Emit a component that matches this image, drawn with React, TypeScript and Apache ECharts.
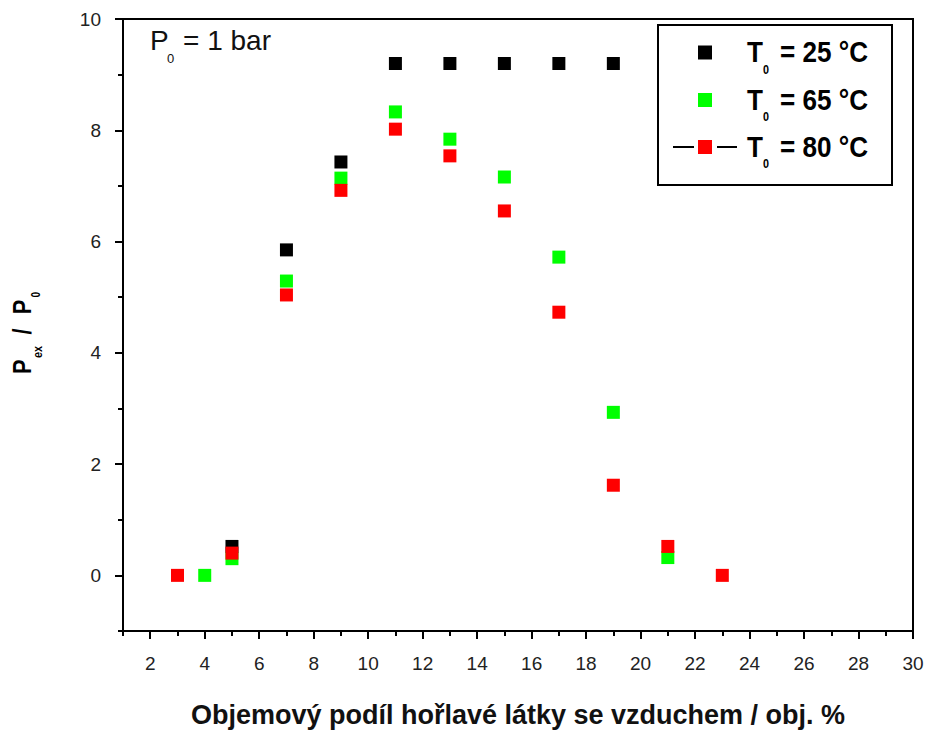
import React, { useEffect, useRef } from "react";
import * as echarts from "echarts";

// ---- data ----
const xTicksMajor = [2, 4, 6, 8, 10, 12, 14, 16, 18, 20, 22, 24, 26, 28, 30];
const xTicksMinor = [1, 3, 5, 7, 9, 11, 13, 15, 17, 19, 21, 23, 25, 27, 29];
const yTicksMajor = [0, 2, 4, 6, 8, 10];
const yTicksMinor = [-1, 1, 3, 5, 7, 9];

const x25 = [5, 7, 9, 11, 13, 15, 17, 19];
const p25 = [0.52, 5.85, 7.43, 9.2, 9.2, 9.2, 9.2, 9.2];
const x65 = [4, 5, 7, 9, 11, 13, 15, 17, 19, 21];
const p65 = [0, 0.3, 5.29, 7.14, 8.33, 7.84, 7.16, 5.72, 2.93, 0.32];
const x80 = [3, 5, 7, 9, 11, 13, 15, 17, 19, 21, 23];
const p80 = [0, 0.4, 5.04, 6.92, 8.02, 7.54, 6.55, 4.73, 1.62, 0.52, 0];

const legendLabels = ["= 25 °C", "= 65 °C", "= 80 °C"];
const colors = ["#000000", "#00ff00", "#ff0000"];

const ARIAL = "'Liberation Sans', Arial, sans-serif";
const NS = 0.84; // horizontal squeeze to imitate a narrow face
const NSL = 0.9;

const zip = (xs: number[], ys: number[]) => xs.map((x, i) => [x, ys[i]]);

export default function App() {
  const ref = useRef<HTMLDivElement>(null);
  useEffect(() => {
    if (!ref.current) return;
    const chart = echarts.init(ref.current, null, { renderer: "svg" });

    const axisCommon = {
      type: "value" as const,
      splitLine: { show: false },
    };

    const legendYs = [52.5, 100, 147];
    const legendGraphics: any[] = [
      {
        type: "rect",
        shape: { x: 658, y: 25, width: 234, height: 160 },
        style: { fill: "#fff", stroke: "#000", lineWidth: 2 },
        z: 10,
      },
    ];
    legendYs.forEach((cy, i) => {
      if (i === 2) {
        legendGraphics.push(
          { type: "line", shape: { x1: 673, y1: cy, x2: 694, y2: cy }, style: { stroke: "#000", lineWidth: 2 }, z: 11 },
          { type: "line", shape: { x1: 717, y1: cy, x2: 737, y2: cy }, style: { stroke: "#000", lineWidth: 2 }, z: 11 }
        );
      }
      legendGraphics.push(
        { type: "rect", shape: { x: 698, y: cy - 7, width: 14, height: 14 }, style: { fill: colors[i] }, z: 12 },
        { type: "text", x: 747, y: cy, scaleX: NSL, style: { text: "T", font: `bold 29px ${ARIAL}`, fill: "#000", verticalAlign: "middle", align: "left" }, z: 12 },
        { type: "text", x: 763, y: cy + 17, scaleX: NSL, style: { text: "0", font: `bold 12px ${ARIAL}`, fill: "#000", verticalAlign: "middle", align: "left" }, z: 12 },
        { type: "text", x: 780, y: cy, scaleX: NSL, style: { text: legendLabels[i], font: `bold 29px ${ARIAL}`, fill: "#000", verticalAlign: "middle", align: "left" }, z: 12 }
      );
    });

    const option: any = {
      animation: false,
      backgroundColor: "#fff",
      grid: {
        left: 123,
        right: 14,
        top: 19,
        bottom: 102,
        show: true,
        borderColor: "#000",
        borderWidth: 2,
        backgroundColor: "transparent",
      },
      xAxis: [
        {
          ...axisCommon,
          min: 1,
          max: 30,
          position: "bottom",
          axisLine: { show: true, onZero: false, lineStyle: { color: "#000", width: 2 } },
          axisTick: { show: true, inside: false, customValues: xTicksMajor, length: 8, lineStyle: { color: "#000", width: 2 } },
          axisLabel: { customValues: xTicksMajor, fontSize: 19, color: "#222", margin: 23, fontFamily: ARIAL },
          name: "Objemový podíl hořlavé látky se vzduchem / obj. %",
          nameLocation: "middle",
          nameGap: 70,
          nameTextStyle: { fontSize: 27, fontWeight: "bold", color: "#111", fontFamily: ARIAL },
        },
        {
          ...axisCommon,
          min: 1,
          max: 30,
          position: "bottom",
          axisLine: { show: false, onZero: false },
          axisTick: { show: true, inside: false, customValues: xTicksMinor, length: 5, lineStyle: { color: "#000", width: 2 } },
          axisLabel: { show: false },
        },
      ],
      yAxis: [
        {
          ...axisCommon,
          min: -1,
          max: 10,
          position: "left",
          axisLine: { show: true, onZero: false, lineStyle: { color: "#000", width: 2 } },
          axisTick: { show: true, inside: false, customValues: yTicksMajor, length: 8, lineStyle: { color: "#000", width: 2 } },
          axisLabel: { customValues: yTicksMajor, fontSize: 19, color: "#222", margin: 22, fontFamily: ARIAL },
        },
        {
          ...axisCommon,
          min: -1,
          max: 10,
          position: "left",
          axisLine: { show: false, onZero: false },
          axisTick: { show: true, inside: false, customValues: yTicksMinor, length: 5, lineStyle: { color: "#000", width: 2 } },
          axisLabel: { show: false },
        },
      ],
      series: [
        { name: "T0 = 25 °C", type: "scatter", symbol: "rect", symbolSize: 13, itemStyle: { color: colors[0], opacity: 1 }, data: zip(x25, p25) },
        { name: "T0 = 65 °C", type: "scatter", symbol: "rect", symbolSize: 13, itemStyle: { color: colors[1], opacity: 1 }, data: zip(x65, p65) },
        { name: "T0 = 80 °C", type: "scatter", symbol: "rect", symbolSize: 13, itemStyle: { color: colors[2], opacity: 1 }, data: zip(x80, p80) },
      ],
      graphic: [
        // annotation P0 = 1 bar
        { type: "text", x: 150, y: 40, style: { text: "P", font: `28px ${ARIAL}`, fill: "#111", verticalAlign: "middle" }, z: 12 },
        { type: "text", x: 167, y: 58, style: { text: "0", font: `13px ${ARIAL}`, fill: "#111", verticalAlign: "middle" }, z: 12 },
        { type: "text", x: 183, y: 40, style: { text: "= 1 bar", font: `28px ${ARIAL}`, fill: "#111", verticalAlign: "middle" }, z: 12 },
        // y axis title (rotated)
        {
          type: "group",
          x: 21.5,
          y: 374,
          rotation: Math.PI / 2,
          scaleX: NS,
          children: [
            { type: "text", x: 0, y: 0, style: { text: "P", font: `bold 26px ${ARIAL}`, fill: "#000", verticalAlign: "middle" } },
            { type: "text", x: 19, y: 16, style: { text: "ex", font: `bold 13px ${ARIAL}`, fill: "#000", verticalAlign: "middle" } },
            { type: "text", x: 47, y: 0, style: { text: "/", font: `bold 26px ${ARIAL}`, fill: "#000", verticalAlign: "middle" } },
            { type: "text", x: 71, y: 0, style: { text: "P", font: `bold 26px ${ARIAL}`, fill: "#000", verticalAlign: "middle" } },
            { type: "text", x: 91, y: 14, style: { text: "0", font: `bold 12px ${ARIAL}`, fill: "#000", verticalAlign: "middle" } },
          ],
        },
        ...legendGraphics,
      ],
    };
    chart.setOption(option);
    return () => chart.dispose();
  }, []);
  return <div ref={ref} style={{ position: "absolute", left: 0, top: 0, width: 927, height: 733 }} />;
}
